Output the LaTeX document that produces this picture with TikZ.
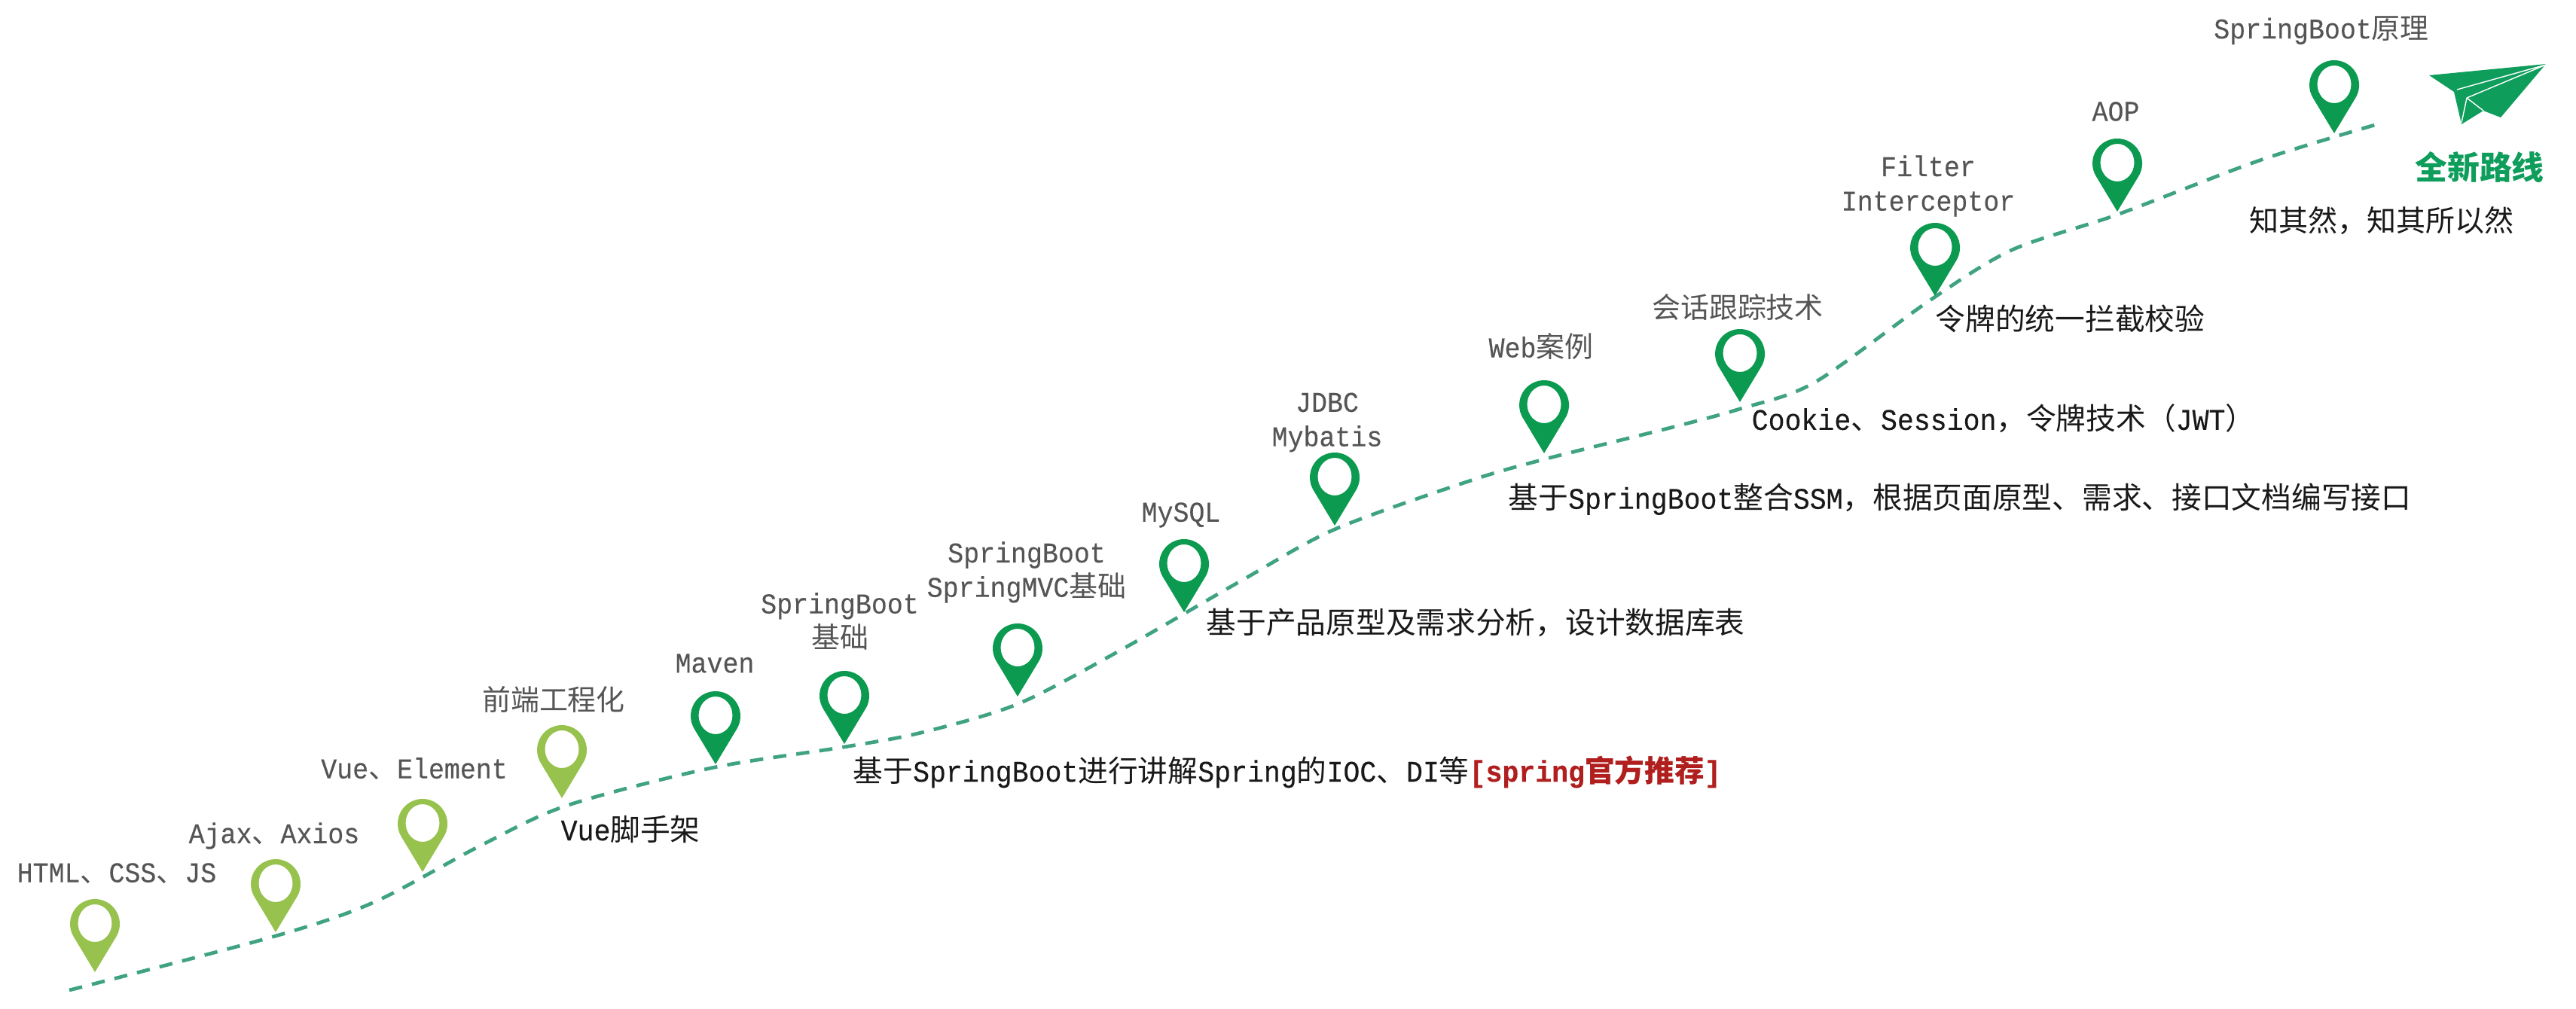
\documentclass[tikz,border=0pt]{standalone}
\usepackage{fontspec}
\setmainfont{Liberation Mono}[FakeStretch=0.92,FakeBold=0.25]
\newfontfamily\cjkfont{Noto Sans CJK SC}
\newcommand{\zh}[1]{{\cjkfont #1}}
\definecolor{pinlight}{HTML}{97C24E}
\definecolor{pindark}{HTML}{0B9A50}
\definecolor{routegreen}{HTML}{3FA283}
\definecolor{titlegreen}{HTML}{0F9D5C}
\definecolor{labelgray}{HTML}{555555}
\definecolor{notered}{HTML}{B01E1E}
\tikzset{
	pinmark/.pic = {
		\path [pic actions, even odd rule]
			(0,0) -- (0.283,-0.47) arc [start angle=31, end angle=-211, radius=0.33] -- cycle
			(0.225,-0.65) arc [start angle=0, end angle=-360, x radius=0.225, y radius=0.25];
	}
}
\begin{document}
\begin{tikzpicture}
[
	              y = -1cm,
	  stoplabel/.style = { text=labelgray, inner sep=0pt, align=center, font=\fontsize{10.8}{13}\selectfont },
	  notelabel/.style = { text=black!90, inner sep=0pt, anchor=west, font=\fontsize{11.3}{13}\selectfont },
	  routeline/.style = { draw=routegreen, line width=1.35pt, dash pattern=on 5pt off 3.8pt }
]
	\useasboundingbox (0,0) rectangle (34.2,13.4);

	% route
	\coordinate (start) at (0.92,13.15);
	\coordinate (finish) at (31.63,1.63);
	\draw [routeline] plot [smooth, tension=0.5] coordinates {
		(start) (3.66,12.43) (4.97,11.98) (6.38,11.23) (7.52,10.70) (9.44,10.20)
		(11.21,9.92) (12.23,9.73) (13.51,9.35) (14.85,8.65) (16.50,7.70) (17.72,7.03)
		(19.50,6.39) (20.50,6.10) (22.18,5.68) (23.10,5.43) (24.09,5.08) (25.62,3.99)
		(26.71,3.32) (28.11,2.85) (30.00,2.13) (finish)
	};

	% stops
	\pic [fill=pinlight] at (1.26,12.91) {pinmark};
	\pic [fill=pinlight] at (3.66,12.38) {pinmark};
	\pic [fill=pinlight] at (5.61,11.58) {pinmark};
	\pic [fill=pinlight] at (7.46,10.60) {pinmark};
	\pic [fill=pindark] at (9.50,10.15) {pinmark};
	\pic [fill=pindark] at (11.21,9.88) {pinmark};
	\pic [fill=pindark] at (13.51,9.25) {pinmark};
	\pic [fill=pindark] at (15.72,8.13) {pinmark};
	\pic [fill=pindark] at (17.72,6.98) {pinmark};
	\pic [fill=pindark] at (20.50,6.02) {pinmark};
	\pic [fill=pindark] at (23.10,5.34) {pinmark};
	\pic [fill=pindark] at (25.69,3.93) {pinmark};
	\pic [fill=pindark] at (28.11,2.81) {pinmark};
	\pic [fill=pindark] at (30.99,1.77) {pinmark};

	% stop names
	\node (html)    at (1.55,11.60)  [stoplabel] {HTML\zh{、}CSS\zh{、}JS};
	\node (ajax)    at (3.64,11.10)  [stoplabel] {Ajax\zh{、}Axios};
	\node (vue)     at (5.50,10.21)  [stoplabel] {Vue\zh{、}Element};
	\node (front)   at (7.35,9.29)   [stoplabel] {\zh{前端工程化}};
	\node (maven)   at (9.49,8.81)   [stoplabel] {Maven};
	\node (boot)    at (11.15,8.25)  [stoplabel] {SpringBoot\\\zh{基础}};
	\node (mvc)     at (13.63,7.60)  [stoplabel] {SpringBoot\\SpringMVC\zh{基础}};
	\node (mysql)   at (15.68,6.84)  [stoplabel] {MySQL};
	\node (jdbc)    at (17.62,5.61)  [stoplabel] {JDBC\\Mybatis};
	\node (web)     at (20.46,4.60)  [stoplabel] {Web\zh{案例}};
	\node (session) at (23.07,4.08)  [stoplabel] {\zh{会话跟踪技术}};
	\node (filter)  at (25.60,2.47)  [stoplabel] {Filter\\Interceptor};
	\node (aop)     at (28.09,1.48)  [stoplabel] {AOP};
	\node (theory)  at (30.82,0.40)  [stoplabel] {SpringBoot\zh{原理}};

	% notes under the route
	\node (scaffold) at (7.44,11.01) [notelabel] {Vue\zh{脚手架}};
	\node (ioc)      at (11.32,10.25) [notelabel] {\zh{基于}SpringBoot\zh{进行讲解}Spring\zh{的}IOC\zh{、}DI\zh{等}\textcolor{notered}{\bfseries [spring\zh{官方推荐}]}};
	\node (design)   at (16.01,8.27) [notelabel] {\zh{基于产品原型及需求分析，设计数据库表}};
	\node (ssm)      at (20.02,6.63) [notelabel] {\zh{基于}SpringBoot\zh{整合}SSM\zh{，根据页面原型、需求、接口文档编写接口}};
	\node (cookie)   at (23.25,5.56) [notelabel] {Cookie\zh{、}Session\zh{，令牌技术（}JWT\zh{）}};
	\node (token)    at (25.69,4.23) [notelabel] {\zh{令牌的统一拦截校验}};

	% plane
	\fill [titlegreen] (32.25,1.00) -- (33.80,0.85) -- (33.20,1.56) -- (32.97,1.47) -- (32.68,1.65) -- (32.58,1.22) -- cycle;
	\draw [white, line width=0.4pt] (32.62,1.19) -- (33.80,0.86) (32.75,1.30) -- (33.80,0.86) (32.75,1.30) -- (32.68,1.63) (32.75,1.30) -- (32.97,1.47);

	\node (fresh) at (32.92,2.22) [inner sep=0pt, text=titlegreen, font=\fontsize{12.2}{14}\selectfont\cjkfont\bfseries] {全新路线};
	\node (why)   at (31.62,2.93) [inner sep=0pt, text=black!90, font=\fontsize{11.1}{13}\selectfont\cjkfont] {知其然，知其所以然};
\end{tikzpicture}
\end{document}
